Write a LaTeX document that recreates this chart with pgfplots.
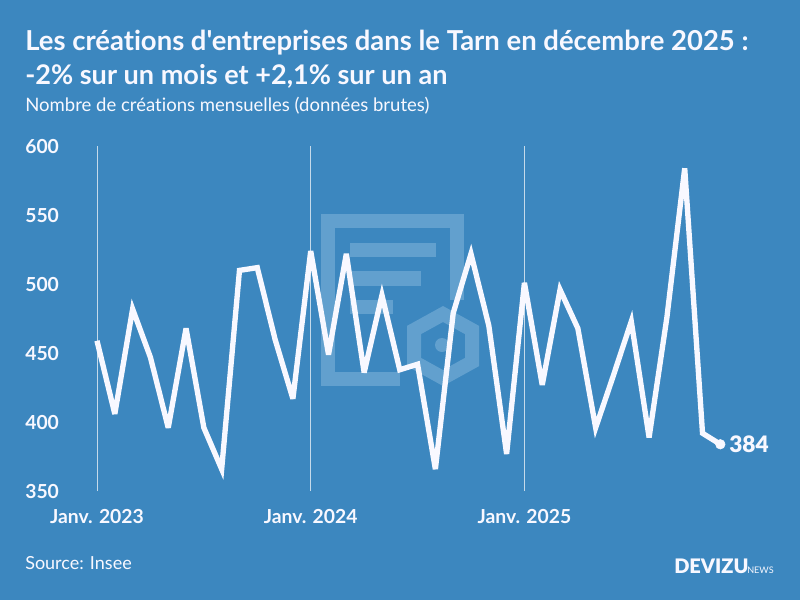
\documentclass[border=0pt]{standalone}
\usepackage{pgfplots}
\pgfplotsset{compat=1.18}
\usepackage{fontspec}
\setmainfont{Lato}[Ligatures={TeXOff,NoCommon}]
\newfontfamily\blk{Lato Black}
\definecolor{bg}{HTML}{3C87BF}
\definecolor{wm}{HTML}{62A0CE}
\definecolor{fg}{HTML}{F8F8FF}
\definecolor{gl}{HTML}{C5DAEA}
\pgfplotstableread{
x y
0 459
1 406
2 482
3 447
4 396
5 468
6 396
7 366
8 510
9 512
10 460
11 417
12 524
13 449
14 522
15 436
16 492
17 438
18 442
19 366
20 479
21 522
22 470
23 377
24 501
25 427
26 496
27 468
28 396
29 434
30 473
31 389
32 476
33 584
34 392
35 384
}\series
\begin{document}
\begin{tikzpicture}
\begin{scope}[x=0.75pt,y=-0.75pt]
\useasboundingbox (0,0) rectangle (800,600);
\fill[bg] (0,0) rectangle (800,600);
% watermark
\draw[wm,line width=10.5pt,miter limit=10] (457,300) -- (457,221) -- (328,221) -- (328,379) -- (400,379);
\fill[wm] (350,243) rectangle (436,257);
\fill[wm] (350,271) rectangle (421,286);
\fill[wm] (350,300) rectangle (393,314);
\draw[wm,line width=10.5pt] (443,314) -- (472,330) -- (472,362) -- (443,378) -- (414,362) -- (414,330) -- cycle;
\fill[wm] (442,345) circle[radius=7];
% titles
\node[anchor=base west,inner sep=0pt,text=fg,font=\bfseries\fontsize{20.6}{24}\selectfont] at (25,50) {Les créations d'entreprises dans le Tarn en décembre 2025 :};
\node[anchor=base west,inner sep=0pt,text=fg,font=\bfseries\fontsize{20.3}{24}\selectfont] at (25,84) {-2\% sur un mois et +2,1\% sur un an};
\node[anchor=base west,inner sep=0pt,text=fg,font=\fontsize{13.9}{16}\selectfont] at (25,111) {Nombre de créations mensuelles (données brutes)};
\node[anchor=base west,inner sep=0pt,text=fg,font=\fontsize{13.5}{16}\selectfont] at (25,569) {Source: Insee};
\node[anchor=base west,inner sep=0pt,text=fg,font=\blk\fontsize{15}{18}\selectfont] at (674,573) {DEVIZU};
\node[anchor=base west,inner sep=0pt,text=fg,font=\fontsize{6.8}{9}\selectfont] at (747,573) {NEWS};
\end{scope}
\begin{axis}[
  at={(72.75pt,-368.4pt)},anchor=south west,
  scale only axis,width=467.5pt,height=258.75pt,
  xmin=0,xmax=35,ymin=350,ymax=600,
  axis line style={draw=none},
  clip=false,
  xtick={0,12,24},
  xticklabels={Janv. 2023,Janv. 2024,Janv. 2025},
  ytick={350,400,450,500,550,600},
  major tick length=0pt,
  xmajorgrids=true,
  x grid style={gl,line width=0.75pt},
  tick label style={text=fg,font=\bfseries\fontsize{14.5}{16}\selectfont},
  /pgf/number format/assume math mode=true,
  yticklabel style={anchor=east,xshift=-25pt,yshift=-0.3pt},
  xticklabel style={anchor=base,yshift=-24.5pt},
]
\addplot[fg,line width=4pt,line join=miter,miter limit=4.5,no markers] table[x=x,y=y]{\series};
\addplot[only marks,mark=*,mark size=3.6pt,mark options={fill=fg,draw=fg}] coordinates {(35,384)}
  node[anchor=west,text=fg,font=\blk\fontsize{17}{20}\selectfont,xshift=4.5pt,inner sep=2pt] {384};
\end{axis}
\end{tikzpicture}
\end{document}
